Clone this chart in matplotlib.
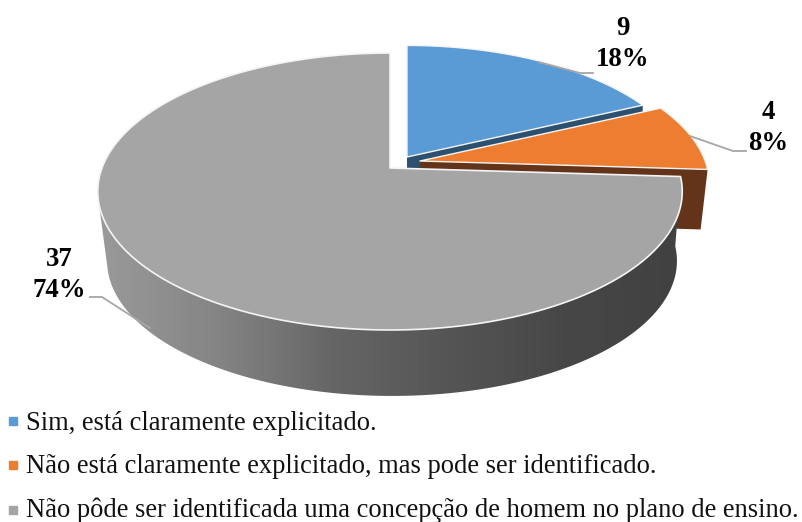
#!/usr/bin/env python3
import numpy as np
import matplotlib
matplotlib.use('Agg')
import matplotlib.pyplot as plt
from matplotlib.patches import Polygon
from matplotlib.colors import LinearSegmentedColormap

values = [9, 4, 37]
legend_labels = [
    'Sim, está claramente explicitado.',
    'Não está claramente explicitado, mas pode ser identificado.',
    'Não pôde ser identificada uma concepção de homem no plano de ensino.',
]
top_colors = ['#5B9BD5', '#ED7D31', '#A5A5A5']
side_colors = ['#2C5170', '#63341A', None]

# pie geometry, in reference pixels
CX, CY = 390, 168
RX, RY, K = 288, 134.5, 0.1697
DEPTH = 60
apex_pos = [(407, 157), (420, 161), (390, 168)]
radius_scale = [0.97, 0.99, 1.0]
SERIF = 'Liberation Serif'


def rim(theta, slice_idx):
    """Perspective rim of the pie, theta clockwise in degrees from 12 o'clock"""
    t = np.radians(theta)
    u, v = np.sin(t), -np.cos(t)
    w = 1 - K * v
    s = radius_scale[slice_idx]
    return apex_pos[slice_idx][0] + s * RX * u / w, apex_pos[slice_idx][1] + s * RY * v / w


def lower_rim(x, y):
    return CX + 2 + (x - CX) * 0.975, CY + (y - CY) * 0.975 + 70


fig = plt.figure(figsize=(8.03, 5.22), dpi=100)
ax = fig.add_axes([0, 0, 1, 1])

total = sum(values)
edges = np.cumsum([0] + values) / total * 360


def top_face(i):
    th = np.linspace(edges[i], edges[i + 1], 200)
    x, y = rim(th, i)
    pts = np.column_stack([x, y])
    return np.vstack([[apex_pos[i]], pts])


# blue and orange cut faces go behind their top faces
for i in [0, 1]:
    rx, ry = rim(edges[i + 1], i)
    ax0, ay0 = apex_pos[i]
    ax.add_patch(Polygon([(ax0, ay0), (rx, ry), (rx - 7 * i, ry + DEPTH),
                          (ax0 + 2 * i, ay0 + DEPTH)], closed=True,
                         facecolor=side_colors[i], edgecolor='none', zorder=2))
    ax.add_patch(Polygon(top_face(i), closed=True, facecolor=top_colors[i],
                         edgecolor='#F4F4F4', linewidth=1.0, zorder=3, joinstyle='round'))

# gray wall with the horizontal gradient, ends at the left extreme of the rim
th = np.linspace(edges[2], 258, 300)
x, y = rim(th, 2)
lx, ly = lower_rim(x, y)
wall = Polygon(np.vstack([np.column_stack([x, y]), np.column_stack([lx, ly])[::-1]]),
               closed=True, transform=ax.transData, facecolor='none', edgecolor='none')
ax.add_patch(wall)
wall_cmap = LinearSegmentedColormap.from_list(
    'wall', ['#9A9A9A', '#858585', '#666666', '#555555', '#474747', '#414141'])
grad = np.linspace(0, 1, 256).reshape(1, -1)
im = ax.imshow(grad, cmap=wall_cmap, extent=(98, 682, 420, 150), aspect='auto', zorder=4)
im.set_clip_path(wall)

# gray top face
ax.add_patch(Polygon(top_face(2), closed=True, facecolor=top_colors[2],
                     edgecolor='#F4F4F4', linewidth=1.2, zorder=5, joinstyle='round'))

# leader lines
leaders = [
    [(538, 62), (580, 73), (593, 73)],
    [(690, 136), (733, 151), (746, 151)],
    [(90, 297), (102, 297), (150, 328)],
]
for line in leaders:
    lxs, lys = zip(*line)
    ax.plot(lxs, lys, color='#A6A6A6', linewidth=1.3, zorder=6)

# data labels
label_pos = [(623, 44), (768, 128), (59, 275)]
for val, pos in zip(values, label_pos):
    ax.text(pos[0], pos[1], f'{val}\n{round(val / total * 100)}%', ha='center', va='center',
            family=SERIF, fontweight='bold', fontsize=19.3, linespacing=1.35, color='black', zorder=7)

# legend
legend_y = [430, 473, 517]
marker_y = [421, 465, 510]
for lab, col, yy, my in zip(legend_labels, top_colors, legend_y, marker_y):
    ax.plot([13.5], [my], marker='s', markersize=5.5, color=col, linestyle='none', zorder=7)
    ax.text(26, yy, lab, ha='left', va='baseline', family=SERIF, fontsize=19.12, color='#111111', zorder=7)

ax.set_xlim(0, 803)
ax.set_ylim(522, 0)
ax.axis('off')
fig.savefig('out.png', dpi=100)
